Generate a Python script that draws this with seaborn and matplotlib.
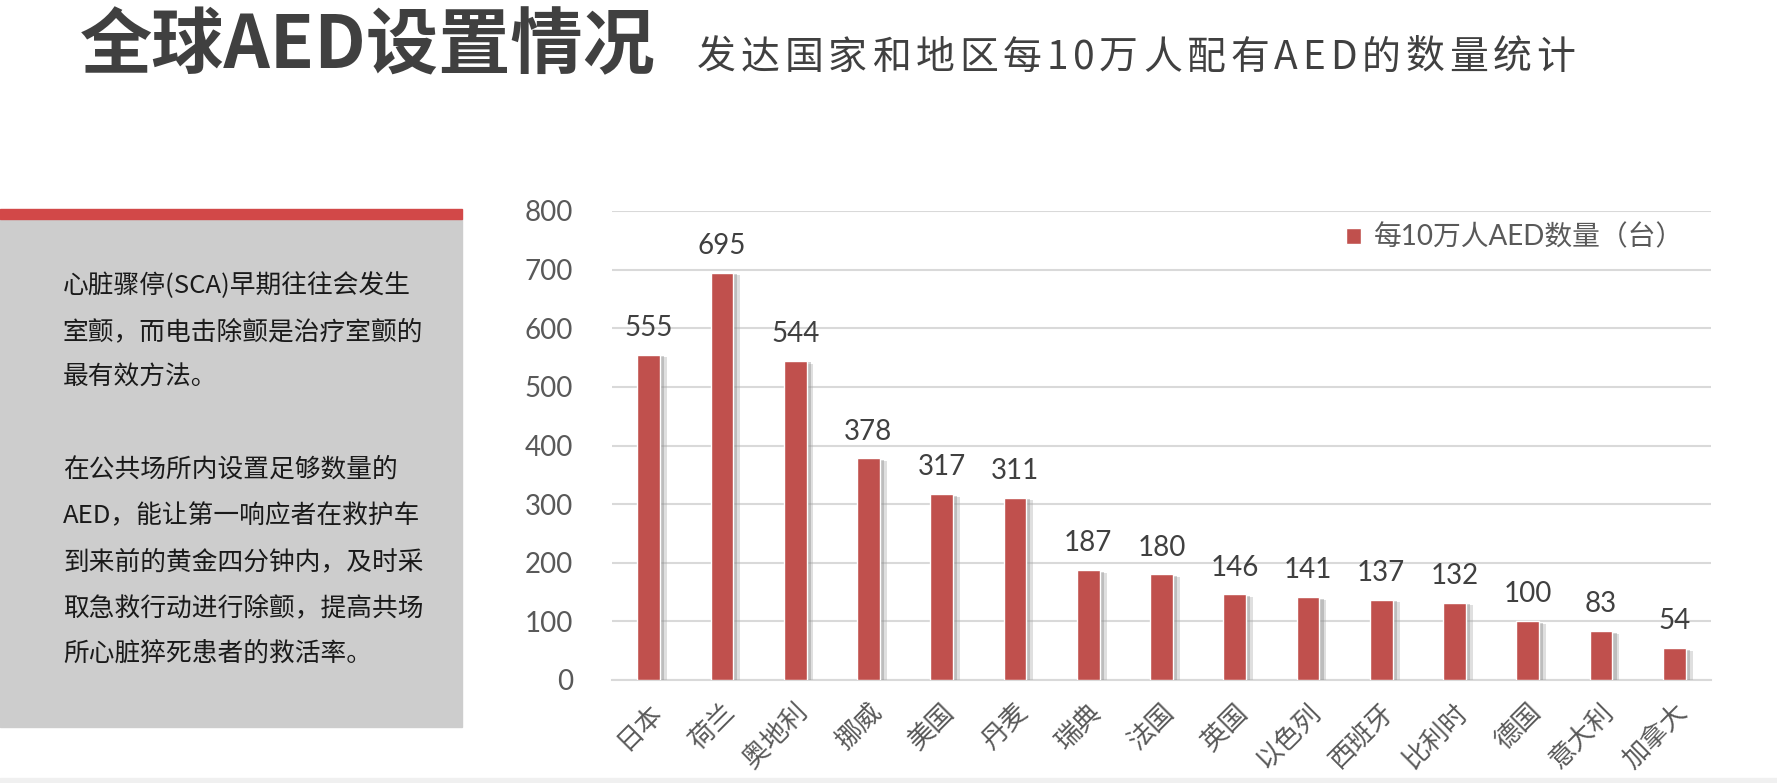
import matplotlib
matplotlib.use("Agg")
import matplotlib.pyplot as plt
import matplotlib.patheffects as pe
from matplotlib.patches import Rectangle
import seaborn as sns
import pandas as pd

# ---- data ----
countries = ["日本", "荷兰", "奥地利", "挪威", "美国", "丹麦", "瑞典", "法国",
             "英国", "以色列", "西班牙", "比利时", "德国", "意大利", "加拿大"]
aed_per_100k = [555, 695, 544, 378, 317, 311, 187, 180, 146, 141, 137, 132, 100, 83, 54]
y_ticks = [0, 100, 200, 300, 400, 500, 600, 700, 800]
series_name = "每10万人AED数量（台）"

title = "全球AED设置情况"
subtitle = "发达国家和地区每10万人配有AED的数量统计"
side_lines = ["心脏骤停(SCA)早期往往会发生", "室颤，而电击除颤是治疗室颤的", "最有效方法。", "",
              "在公共场所内设置足够数量的", "AED，能让第一响应者在救护车",
              "到来前的黄金四分钟内，及时采", "取急救行动进行除颤，提高共场",
              "所心脏猝死患者的救活率。"]

BAR = "#C0504D"
GRID = "#D9D9D9"
TXT = "#404040"

sns.set_theme(style="white")
plt.rcParams['font.family'] = ['Lato', 'Noto Sans CJK SC', 'DejaVu Sans']

W, H = 1777, 783
fig = plt.figure(figsize=(W / 100, H / 100), dpi=100)
renderer = fig.canvas.get_renderer()

# titles
fig.text(80 / W, 1 - 47 / H, title, family=['Noto Sans CJK SC'], fontweight='bold',
         fontsize=52, color=TXT, ha='left', va='center')

# subtitle drawn with letter spacing (spread over the same span as the original)
sub_left, sub_right = 697, 1575
pieces = [fig.text(0, 1 - 58 / H, ch, family=['Noto Sans CJK SC'], fontsize=28,
                   color=TXT, ha='left', va='center') for ch in subtitle]
widths = [t.get_window_extent(renderer).width for t in pieces]
gap = (sub_right - sub_left - sum(widths)) / (len(pieces) - 1)
x = sub_left
for t, w in zip(pieces, widths):
    t.set_x(x / W)
    x += w + gap

# left grey panel with red top stripe
fig.patches.append(Rectangle((0, 1 - 727 / H), 462 / W, (727 - 219) / H,
                             transform=fig.transFigure, color="#CDCDCD", zorder=0))
fig.patches.append(Rectangle((0, 1 - 219 / H), 462 / W, 10 / H,
                             transform=fig.transFigure, color="#D24848", zorder=0))
for i, line in enumerate(side_lines):
    fig.text(63 / W, 1 - (286 + 46 * i) / H, line, family=['Noto Sans CJK SC'],
             fontsize=18.5, color="#1A1A1A", ha='left', va='center')

# faint strip at the bottom
fig.patches.append(Rectangle((0, 0), 1, 5 / H, transform=fig.transFigure,
                             color="#F0F0F0", zorder=0))

# chart
ax = fig.add_axes([612 / W, 1 - 680 / H, (1711 - 612) / W, (680 - 211) / H])
df = pd.DataFrame({"country": countries, "value": aed_per_100k})
sns.barplot(data=df, x="country", y="value", color=BAR, saturation=1,
            width=0.31, ax=ax, label=series_name, zorder=3)

leg = ax.legend(loc='upper left', bbox_to_anchor=(0.645, 1.025), frameon=False,
                fontsize=20, handlelength=0.55, handleheight=0.55, handletextpad=0.45,
                labelcolor="#595959")

# soft grey shadow to the right of each bar
for patch in ax.patches:
    patch.set_path_effects([pe.SimplePatchShadow(offset=(5, -2), shadow_rgbFace='#a6a6a6', alpha=0.35),
                            pe.SimplePatchShadow(offset=(3, -1), shadow_rgbFace='#8c8c8c', alpha=0.4),
                            pe.Normal()])

ax.bar_label(ax.containers[0], labels=[str(v) for v in aed_per_100k], padding=10,
             fontsize=20, color=TXT)

ax.set_ylim(0, 800)
ax.set_xlim(-0.5, len(countries) - 0.5)
ax.set_yticks(y_ticks)
ax.yaxis.grid(True, color=GRID, linewidth=1.5, zorder=0)
ax.set_axisbelow(True)
ax.tick_params(axis='y', length=0, pad=28, labelsize=20, labelcolor="#595959")
ax.tick_params(axis='x', length=0, pad=14, labelsize=19, labelcolor="#595959")
plt.setp(ax.get_xticklabels(), rotation=45, ha='right', rotation_mode='anchor')
ax.set_xlabel("")
ax.set_ylabel("")
for s in ["top", "right", "left"]:
    ax.spines[s].set_visible(False)
ax.spines["bottom"].set_color(GRID)
ax.spines["bottom"].set_linewidth(1.5)

fig.savefig("out.png", dpi=100)
